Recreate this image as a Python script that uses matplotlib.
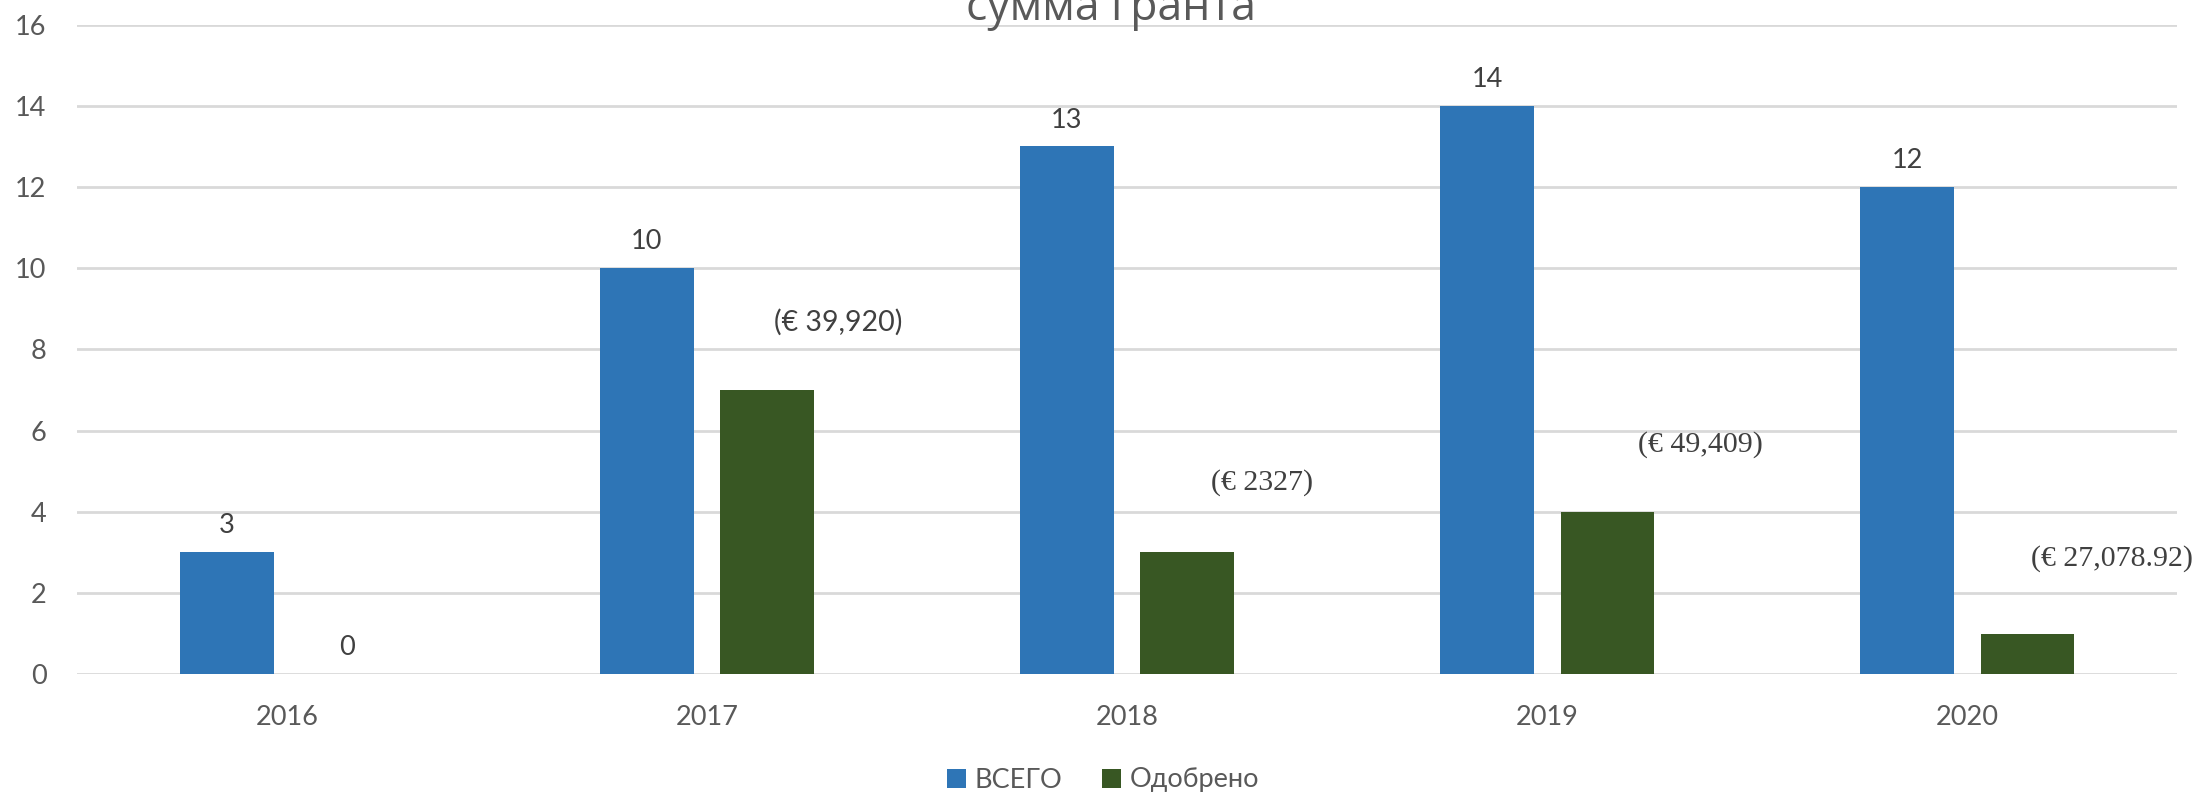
import matplotlib.pyplot as plt
import numpy as np

# données
years = ['2016', '2017', '2018', '2019', '2020']
total = [3, 10, 13, 14, 12]
approved = [0, 7, 3, 4, 1]
grant_labels = ['', '(€ 39,920)', '(€ 2327)', '(€ 49,409)', '(€ 27,078.92)']
# position des montants (décalage en x par rapport à la catégorie, hauteur en y)
grant_dx = [0, 0.312, 0.321, 0.365, 0.345]
grant_y = [0, 8.67, 4.72, 5.65, 2.86]

sans = ['Lato', 'Open Sans', 'DejaVu Sans']
plt.rcParams['font.family'] = sans
txt = '#595959'

fig = plt.figure(figsize=(22.06, 7.95), dpi=100)
ax = fig.add_axes([0.0349, 0.152, 0.952, 0.817])

x = np.arange(len(years))
w = 0.222
b1 = ax.bar(x - 0.143, total, w, color='#2E75B6', label='ВСЕГО')
b2 = ax.bar(x + 0.143, approved, w, color='#385723', label='Одобрено')

ax.bar_label(b1, padding=10, fontsize=19.5, color='#404040')
ax.bar_label(b2, padding=10, fontsize=19.5, color='#404040', labels=[str(v) if v == 0 else '' for v in approved])

# montants des subventions : le premier en police sans, les autres en serif
for i in range(1, len(years)):
    fam = sans if i == 1 else 'Liberation Serif'
    size = 20.5 if i == 1 else 21.5
    ax.text(x[i] + grant_dx[i], grant_y[i], grant_labels[i], ha='center', va='center',
            fontsize=size, color='#404040', family=fam)

ax.set_xlim(-0.5, len(years) - 0.5)
ax.set_ylim(0, 16)
ax.set_yticks(range(0, 17, 2))
ax.set_xticks(x)
ax.set_xticklabels(years)
ax.tick_params(length=0, labelsize=19.5, labelcolor=txt)
ax.tick_params(axis='x', pad=22)
ax.tick_params(axis='y', pad=22)
ax.grid(axis='y', color='#D9D9D9', linewidth=2)
ax.set_axisbelow(True)
for s in ax.spines.values():
    s.set_visible(False)

# titre coupé en haut
fig.text(0.5036, 1 - 20 / 795, 'сумма гранта', ha='center', va='baseline', fontsize=32,
         color=txt, family=['Open Sans', 'DejaVu Sans'])

fig.legend(loc='center', bbox_to_anchor=(0.5, 1 - 780 / 795), ncol=2, frameon=False,
           fontsize=19.5, labelcolor=txt, handlelength=0.7, handleheight=0.7,
           handletextpad=0.3, columnspacing=1.5)

plt.savefig('out.png', dpi=100)
